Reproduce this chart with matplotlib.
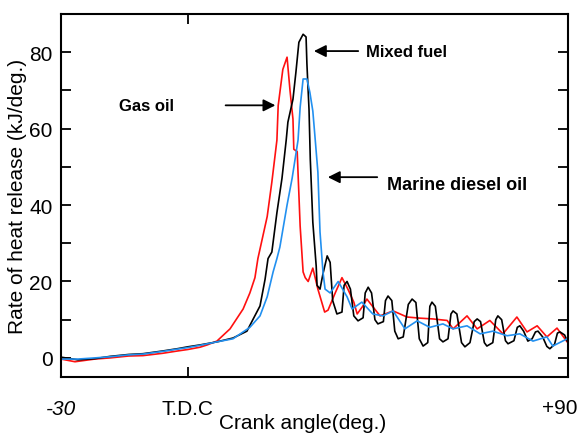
import matplotlib
matplotlib.use('Agg')
import matplotlib.pyplot as plt
from matplotlib import font_manager

# Crank angle (deg.) and heat release rate (kJ/deg.)
gas_oil_x = [-30, -26.7, -22, -18.4, -14, -10.6, -6, -2.5, 0, 2.9, 4.6, 6.9, 10.0, 13.1, 14.7,
             15.9, 16.6, 17.6, 18.8, 19.9, 21.1, 21.4, 22.5, 23.5, 24.2, 24.9, 25.1, 25.9,
             26.6, 27.3, 27.8, 28.5, 29.6, 30.8, 32.4, 33.2, 34.9, 36.5, 37.9, 39.3, 40.1,
             41.4, 42.4, 45.5, 48.6, 51.9, 55.0, 58.0, 61.4, 62.8, 66.1, 68.5, 71.5, 74.6,
             77.9, 80.3, 82.7, 85.0, 87.4, 89.8]
gas_oil_y = [-0.3, -1.0, -0.3, 0.0, 0.5, 0.6, 1.2, 1.8, 2.2, 2.8, 3.4, 4.4, 7.6, 12.8, 17,
             21, 26, 31, 37, 46, 57, 66, 75.5, 78.7, 70, 62.5, 54.6, 54,
             34.5, 22.5, 21, 20, 23.5, 18, 12, 12.5, 17, 21, 18, 14.6, 11.5,
             13.5, 15.4, 11, 12.3, 10.7, 10.4, 10.2, 9.8, 7.6, 11, 7.6, 9.8, 6.3,
             10.7, 6.8, 8.4, 5.5, 7.8, 4.2]

mixed_x = [-30, -26, -22, -18.4, -14, -10.6, -6, -2.5, 0, 2.9, 6.9, 10.7, 14.0, 15.4, 17.1,
           18.3, 19.0, 19.9, 21.1, 22.3, 23.3, 23.7, 24.9, 25.6, 26.3, 27.3, 28.0, 28.2,
           28.7, 29.0, 29.6, 30.4, 30.6, 31.3, 32.0, 33.0, 33.7, 34.3, 35.3, 36.5, 37.0,
           37.7, 38.5, 39.3, 40.3, 41.5, 42.0, 42.7, 43.5, 44.3, 45.0, 46.3, 46.8, 47.4,
           48.3, 49.0, 49.8, 51.0, 52.2, 53.1, 54.0, 54.8, 55.7, 56.8, 57.3, 57.8, 58.6,
           59.6, 60.4, 61.6, 62.3, 62.8, 63.7, 64.8, 65.6, 66.8, 67.8, 68.5, 69.3, 70.2,
           70.8, 72.2, 72.9, 73.4, 74.3, 75.2, 75.8, 77.2, 78.0, 78.6, 79.5, 80.5, 81.5,
           82.3, 82.9, 84.0, 85.0, 85.7, 86.8, 87.5, 88.1, 89.2, 89.8]
mixed_y = [0.2, -0.5, -0.2, 0.4, 0.9, 1.1, 1.8, 2.4, 2.9, 3.4, 4.2, 5.2, 7, 10, 13.6,
           20.6, 26, 27.7, 38, 47, 57, 61.7, 67.7, 74.8, 82.6, 84.7, 84, 77,
           65, 52, 35.5, 24, 19, 18, 22, 26.7, 25, 15, 11.5, 12, 19,
           20, 18, 11, 9.7, 10.5, 17, 18.5, 17, 10, 8.9, 9.5, 15, 16.2,
           15, 7, 5, 5.5, 14, 15.4, 14.5, 5, 3.1, 4, 13.5, 14.6, 13.5,
           5, 4.2, 5, 11.5, 12.3, 11.5, 4, 2.9, 4, 9.5, 10.2, 9.5, 4,
           3.1, 4, 10, 11, 10, 4.5, 3.7, 4.5, 8, 8.4, 7, 4.4, 5,
           6.8, 7, 5.5, 3, 2.4, 3.5, 6.5, 6.8, 6, 4.5]

marine_x = [-30, -26, -22, -18.4, -14, -10.6, -6, -2.5, 0, 2.9, 6.9, 10.7, 14.7, 17.1, 18.8,
            20.2, 21.1, 21.8, 23.5, 24.7, 26.1, 26.6, 27.3, 28.2, 28.9, 29.6, 30.1, 30.8,
            31.3, 32.0, 32.5, 33.7, 35.6, 37.7, 38.9, 41.2, 43.8, 46.2, 48.6, 51.4, 54.3,
            57.3, 60.4, 62.8, 66.1, 69.2, 72.2, 75.6, 78.6, 81.7, 85.0, 86.4, 89.8]
marine_y = [-0.3, -0.3, 0, 0.3, 0.8, 1.0, 1.7, 2.3, 2.7, 3.3, 4.2, 5.0, 8, 11, 16,
            22.5, 26, 29, 40, 47, 57, 65.6, 73, 73, 69.5, 64.6, 58, 48.6,
            33, 22.5, 18, 17, 20, 16, 12.8, 14.6, 11.5, 11, 12.3, 7.6, 9.7,
            8, 8.9, 7.6, 8.4, 6.3, 7, 5.8, 6.3, 4.4, 5.5, 3.1, 5]

tick_pos = [-30, 0, 90]
tick_labels = ['-30', 'T.D.C', '']

names = {f.name for f in font_manager.fontManager.ttflist}
fam = 'Liberation Sans Narrow' if 'Liberation Sans Narrow' in names else 'Liberation Sans'
plt.rcParams['font.family'] = [fam, 'DejaVu Sans']
bold_fam = ['Liberation Sans', 'DejaVu Sans']

fig = plt.figure(figsize=(5.79, 4.35), dpi=100)
ax = fig.add_axes([0.1054, 0.131, 0.8756, 0.8345])

ax.plot(gas_oil_x, gas_oil_y, color='#ff1010', lw=1.2)
ax.plot(mixed_x, mixed_y, color='black', lw=1.2)
ax.plot(marine_x, marine_y, color='#2290f0', lw=1.2)

ax.set_xlim(-30, 90)
ax.set_ylim(-5, 90)

ax.set_xticks(tick_pos)
ax.set_xticklabels(tick_labels, fontsize=15)
ax.get_xticklabels()[0].set_style('italic')
# the +90 label sits right of its tick, flush with the figure edge
ax.annotate('+90', xy=(90, 0), xycoords=ax.get_xaxis_transform(), xytext=(7, -15),
            textcoords='offset points', ha='right', va='top', fontsize=15)
ax.set_yticks([0, 20, 40, 60, 80])
ax.set_yticks(range(0, 90, 10), minor=True)
ax.tick_params(axis='y', which='both', direction='in', length=7, width=1.3,
               right=True, labelsize=15, pad=6)
ax.tick_params(axis='x', which='both', direction='in', length=7, width=1.3,
               top=True, pad=16)
for s in ax.spines.values():
    s.set_linewidth(1.5)

ax.set_xlabel('Crank angle(deg.)', fontsize=15)
ax.xaxis.set_label_coords(0.476, -0.1)
ax.set_ylabel('Rate of heat release (kJ/deg.)', fontsize=15, labelpad=2)

arrow = dict(arrowstyle='-|>', color='black', lw=1.3, mutation_scale=18)
ax.annotate('', xy=(21.4, 66.1), xytext=(8.3, 66.1), arrowprops=arrow)
ax.text(-16.2, 66.1, 'Gas oil', fontsize=12, fontweight='bold', va='center', family=bold_fam)
ax.annotate('', xy=(29.2, 80.3), xytext=(41.0, 80.3), arrowprops=arrow)
ax.text(42.2, 80.3, 'Mixed fuel', fontsize=12, fontweight='bold', va='center', family=bold_fam)
ax.annotate('', xy=(32.5, 47.3), xytext=(45.5, 47.3), arrowprops=arrow)
ax.text(47.2, 45.5, 'Marine diesel oil', fontsize=13, fontweight='bold', va='center',
        family=bold_fam)

fig.savefig('out.png', dpi=100)
